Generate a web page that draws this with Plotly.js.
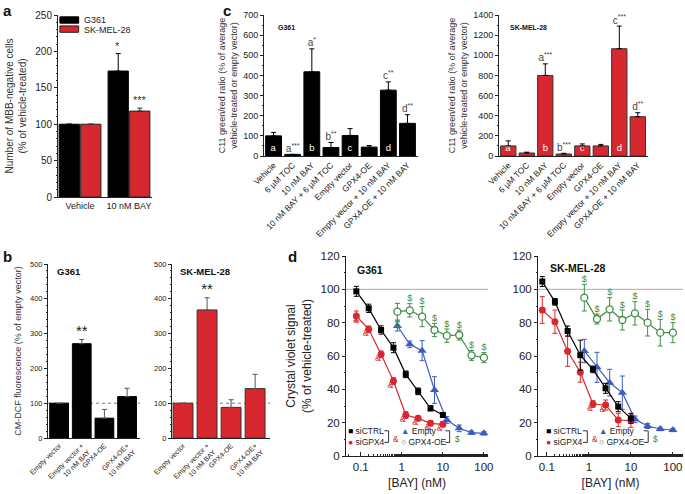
<!DOCTYPE html>
<html>
<head>
<meta charset="utf-8">
<script src="https://cdn.plot.ly/plotly-3.0.1.min.js"></script>
<style>html,body{margin:0;padding:0;background:#fff}</style>
</head>
<body>
<div id="chart" style="width:685px;height:494px"></div>
<script>
// ---- panel a ----
const aGroups = ["Vehicle", "10 nM BAY"];
const aG361 = [100, 173];
const aG361Err = [0, 24];
const aSK = [100, 118];
const aSKErr = [0, 4];
const aG361Stars = ["", "*"];
const aSKStars = ["", "***"];

// ---- panel b ----
const bLabels = ["Empty vector", "Empty vector +<br>10 nM BAY", "GPX4-OE", "GPX4-OE+<br>10 nM BAY"];
const bG361 = [100, 271, 57, 119];
const bG361Err = [0, 12, 25, 24];
const bSK = [100, 368, 88, 142];
const bSKErr = [0, 35, 22, 41];
const bStars = ["", "**", "", ""];

// ---- panel c ----
const cLabels = ["Vehicle", "6 µM TOC", "10 nM BAY", "10 nM BAY + 6 µM TOC", "Empty vector",
  "GPX4-OE", "Empty vector + 10 nM BAY", "GPX4-OE + 10 nM BAY"];
const cG361 = [100, 8, 418, 42, 102, 44, 327, 162];
const cG361Err = [17, 0, 114, 25, 34, 8, 41, 43];
const cSK = [100, 30, 800, 20, 100, 100, 1065, 390];
const cSKErr = [50, 8, 115, 7, 20, 15, 225, 40];
const cInner = ["a", "", "b", "", "c", "", "d", ""];
const cG361Tags = ["", "a<sup>***</sup>", "a<sup>*</sup>", "b<sup>**</sup>", "", "", "c<sup>**</sup>", "d<sup>**</sup>"];
const cSKTags = ["", "", "a<sup>***</sup>", "b<sup>***</sup>", "", "", "c<sup>***</sup>", "d<sup>**</sup>"];

// ---- panel d ----
const doseSi = [0.078, 0.156, 0.3125, 0.625, 1.25, 2.5, 5, 10];
const doseOE = [0.78, 1.56, 3.125, 6.25, 12.5, 25, 50, 100];

const g361CTRL = [98.8, 88.6, 75.6, 65, 49, 38.8, 28.6, 24.6];
const g361CTRLErr = [3, 2.5, 2.5, 3, 2, 2, 1.5, 1.5];
const g361GPX4 = [84, 76, 61, 45, 24.6, 22.6, 19.6, 19];
const g361GPX4Err = [3, 2, 2, 2, 2, 1.5, 1.5, 1.5];
const g361Empty = [78, 67, 63.2, 39.6, 21.6, 16.6, 14, 13.6];
const g361EmptyErr = [3, 2, 6, 8, 2, 2, 1, 1];
const g361OE = [86.6, 87.4, 83.6, 75.6, 72.2, 72.6, 60.4, 59];
const g361OEErr = [5, 4, 6, 4, 4, 3, 3, 3];
const g361Amp = ["&", "&", "&", "&", "&", "&", "&", "&"];

const skCTRL = [104.7, 92.5, 75, 60.5, 52, 40.6, 29.6, 22.6];
const skCTRLErr = [3, 2, 3, 9, 2, 3, 3, 3];
const skGPX4 = [87.6, 80.6, 62.8, 50.3, 31.2, 30.6, 21.6, 21.2];
const skGPX4Err = [8, 7, 9, 6, 2, 3, 4, 4];
const skEmpty = [63, 53.2, 44, 38, 22, 18, 16.2, 15.6];
const skEmptyErr = [7, 9, 8, 10, 2, 1.5, 1, 1];
const skOE = [95, 82.2, 88, 81.6, 85.6, 80, 74, 74];
const skOEErr = [8, 3, 7, 6, 7, 8, 8, 6];
const skAmp = ["", "", "", "", "&", "&", "", ""];

const RED = "#d7282f", BLUE = "#3c5cc0", GREEN = "#3d8c43";
const FONT = "Liberation Sans, Arial, sans-serif";
const W = 685, H = 494;
const xd = (l, r) => [l / W, r / W];
const yd = (t, b) => [1 - b / H, 1 - t / H];
const up = (v, e) => v.map((x, i) => x + e[i]);
const zeros = (n) => new Array(n).fill(0);

function barErr(err, color) {
  return { type: "data", symmetric: false, array: err, arrayminus: zeros(err.length),
    color: color || "#000", thickness: 1, width: 2.5 };
}
function ptErr(err, color) {
  return { type: "data", array: err, color, thickness: 1, width: 2.5 };
}
function catAxis(dom, anchor, range, size, angle) {
  return { domain: dom, anchor, type: "category", range, showline: true, linecolor: "#222",
    linewidth: 1, ticks: "", tickfont: { size, color: "#222" }, tickangle: angle,
    showgrid: false, zeroline: false, fixedrange: true };
}
function valAxis(dom, anchor, range, dtick, minor, size, title) {
  return { domain: dom, anchor, range, dtick, showline: true, linecolor: "#222", linewidth: 1,
    ticks: "outside", ticklen: 3, tickcolor: "#222", tickfont: { size, color: "#222" },
    minor: { dtick: minor, ticks: "outside", ticklen: 1.5, tickcolor: "#222" },
    showgrid: false, zeroline: false, title, fixedrange: true };
}

const data = [
  // a
  { type: "bar", x: aGroups, y: aG361, xaxis: "x", yaxis: "y", name: "G361",
    marker: { color: "#000", line: { color: "#000", width: 1 } }, error_y: barErr(aG361Err) },
  { type: "bar", x: aGroups, y: aSK, xaxis: "x", yaxis: "y", name: "SK-MEL-28",
    marker: { color: RED, line: { color: "#222", width: 1 } }, error_y: barErr(aSKErr, "#333") },

  // b
  { type: "bar", x: bLabels, y: bG361, xaxis: "x2", yaxis: "y2",
    marker: { color: "#000", line: { color: "#000", width: 1 } }, error_y: barErr(bG361Err, "#555") },
  { type: "scatter", mode: "text", x: bLabels, y: up(bG361, bG361Err), text: bStars, xaxis: "x2", yaxis: "y2",
    textposition: "top center", textfont: { size: 15, color: "#222" }, cliponaxis: false },
  { type: "bar", x: bLabels, y: bSK, xaxis: "x3", yaxis: "y3",
    marker: { color: RED, line: { color: "#333", width: 1 } }, error_y: barErr(bSKErr, "#555") },
  { type: "scatter", mode: "text", x: bLabels, y: up(bSK, bSKErr), text: bStars, xaxis: "x3", yaxis: "y3",
    textposition: "top center", textfont: { size: 15, color: "#222" }, cliponaxis: false },

  // c
  { type: "bar", x: cLabels, y: cG361, xaxis: "x4", yaxis: "y4", text: cInner,
    textposition: "inside", insidetextanchor: "start", textangle: 0, constraintext: "none",
    textfont: { size: 9.5, color: "#fff" },
    marker: { color: "#000", line: { color: "#000", width: 1 } }, error_y: barErr(cG361Err) },
  { type: "scatter", mode: "text", x: cLabels, y: up(cG361, cG361Err), text: cG361Tags, xaxis: "x4", yaxis: "y4",
    textposition: "top center", textfont: { size: 10, color: "#444" }, cliponaxis: false },
  { type: "bar", x: cLabels, y: cSK, xaxis: "x5", yaxis: "y5", text: cInner,
    textposition: "inside", insidetextanchor: "start", textangle: 0, constraintext: "none",
    textfont: { size: 9.5, color: "#fff" },
    marker: { color: RED, line: { color: "#333", width: 1 } }, error_y: barErr(cSKErr) },
  { type: "scatter", mode: "text", x: cLabels, y: up(cSK, cSKErr), text: cSKTags, xaxis: "x5", yaxis: "y5",
    textposition: "top center", textfont: { size: 10, color: "#444" }, cliponaxis: false },
];

// d: two dose-response panels
function doseTraces(xa, ya, ctrl, ctrlE, gpx, gpxE, emp, empE, oe, oeE, amp, firstBelow) {
  const common = { type: "scatter", mode: "lines+markers", xaxis: xa, yaxis: ya, cliponaxis: false };
  const ampPos = doseSi.map((d, i) => (i === 0 && firstBelow ? "bottom center" : "bottom left"));
  const dolPos = doseOE.map((d, i) => (i === 0 && firstBelow ? "bottom center" : "top center"));
  const dolY = oe.map((v, i) => (i === 0 && firstBelow ? v - oeE[i] : v + oeE[i]));
  return [
    { ...common, x: doseOE, y: emp, error_y: ptErr(empE, BLUE), line: { color: BLUE, width: 1.2 },
      marker: { symbol: "triangle-up", size: 8, color: BLUE } },
    { ...common, x: doseOE, y: oe, error_y: ptErr(oeE, GREEN), line: { color: GREEN, width: 1.2 },
      marker: { symbol: "circle", size: 7, color: "#fff", line: { color: GREEN, width: 1.3 } } },
    { ...common, x: doseSi, y: gpx, error_y: ptErr(gpxE, RED), line: { color: RED, width: 1.2 },
      marker: { symbol: "circle", size: 7, color: RED } },
    { ...common, x: doseSi, y: ctrl, error_y: ptErr(ctrlE, "#000"), line: { color: "#000", width: 1.2 },
      marker: { symbol: "square", size: 6, color: "#000" } },
    { type: "scatter", mode: "text", x: doseSi, y: gpx, text: amp, xaxis: xa, yaxis: ya,
      textposition: ampPos, textfont: { size: 9, color: RED }, cliponaxis: false },
    { type: "scatter", mode: "text", x: doseOE, y: dolY, text: doseOE.map(() => "$"), xaxis: xa, yaxis: ya,
      textposition: dolPos, textfont: { size: 9, color: GREEN }, cliponaxis: false },
  ];
}
data.push(...doseTraces("x6", "y6", g361CTRL, g361CTRLErr, g361GPX4, g361GPX4Err,
  g361Empty, g361EmptyErr, g361OE, g361OEErr, g361Amp, true));
data.push(...doseTraces("x7", "y7", skCTRL, skCTRLErr, skGPX4, skGPX4Err,
  skEmpty, skEmptyErr, skOE, skOEErr, skAmp, false));
data.forEach((t) => (t.hoverinfo = "skip"));

const cTitle = { text: "C11 green/red ratio (% of average<br>vehicle-treated or empty vector)",
  font: { size: 9, color: "#333" }, standoff: 4 };

function logAxis(dom, anchor, range) {
  return { domain: dom, anchor, type: "log", range, tickvals: [0.1, 1, 10, 100],
    ticktext: ["0.1", "1", "10", "100"], showline: true, linecolor: "#222", linewidth: 1,
    ticks: "inside", ticklen: 4, tickcolor: "#222", tickfont: { size: 11.5, color: "#222" },
    minor: { ticks: "inside", ticklen: 2, tickcolor: "#222" },
    showgrid: false, zeroline: false, fixedrange: true,
    title: { text: "[BAY] (nM)", font: { size: 12, color: "#222" }, standoff: 6 } };
}

const layout = {
  width: W, height: H, margin: { l: 0, r: 0, t: 0, b: 0 },
  paper_bgcolor: "#fff", plot_bgcolor: "rgba(0,0,0,0)",
  font: { family: FONT, color: "#222" }, showlegend: false,
  barmode: "group", bargap: 0.12, bargroupgap: 0.06,

  xaxis: catAxis(xd(58, 152), "y", [-0.45, 1.47], 9, 0),
  yaxis: valAxis(yd(15, 197), "x", [0, 250], 50, 10, 10,
    { text: "Number of MBB-negative cells<br>(% of vehicle-treated)", font: { size: 10, color: "#333" }, standoff: 6 }),

  xaxis2: catAxis(xd(48, 140), "y2", [-0.49, 3.57], 7, -45),
  yaxis2: valAxis(yd(264, 438), "x2", [0, 500], 100, 20, 7.5,
    { text: "CM-DCF fluorescence (% of empty vector)", font: { size: 9, color: "#333" }, standoff: 6 }),
  xaxis3: catAxis(xd(172, 270), "y3", [-0.46, 3.62], 7, -45),
  yaxis3: valAxis(yd(264, 438), "x3", [0, 500], 100, 20, 7.5),

  xaxis4: catAxis(xd(264, 418), "y4", [-0.5, 7.55], 8.5, -45),
  yaxis4: valAxis(yd(15, 156), "x4", [0, 700], 100, 50, 9, cTitle),
  xaxis5: catAxis(xd(499, 648), "y5", [-0.5, 7.55], 8.5, -45),
  yaxis5: valAxis(yd(15, 156), "x5", [0, 1400], 200, 100, 9, cTitle),

  xaxis6: logAxis(xd(346, 488), "y6", [-1.36, 2.1]),
  yaxis6: valAxis(yd(256, 456), "x6", [0, 120], 20, 10, 11.5,
    { text: "Crystal violet signal<br>(% of vehicle-treated)", font: { size: 12, color: "#222" }, standoff: 6 }),
  xaxis7: logAxis(xd(538, 683), "y7", [-1.21, 2.24]),
  yaxis7: valAxis(yd(256, 456), "x7", [0, 120], 20, 10, 11.5),

  shapes: [
    { type: "line", xref: "x2 domain", yref: "y2", x0: 0, x1: 1, y0: 100, y1: 100, layer: "below",
      line: { color: "#777", width: 1, dash: "dot" } },
    { type: "line", xref: "x3 domain", yref: "y3", x0: 0, x1: 1, y0: 100, y1: 100, layer: "below",
      line: { color: "#777", width: 1, dash: "dot" } },
    { type: "line", xref: "x6 domain", yref: "y6", x0: 0, x1: 1, y0: 100, y1: 100, layer: "below",
      line: { color: "#aaa", width: 1 } },
    { type: "line", xref: "x7 domain", yref: "y7", x0: 0, x1: 1, y0: 100, y1: 100, layer: "below",
      line: { color: "#aaa", width: 1 } },
    // legend swatches for panel a
    { type: "rect", xref: "x domain", yref: "y domain", x0: 0.02, x1: 0.22, y0: 0.955, y1: 0.99,
      fillcolor: "#000", line: { color: "#000", width: 1 } },
    { type: "rect", xref: "x domain", yref: "y domain", x0: 0.02, x1: 0.22, y0: 0.905, y1: 0.94,
      fillcolor: RED, line: { color: "#222", width: 1 } },
  ],
  annotations: [],
};

const ann = layout.annotations;
function note(o) { ann.push({ showarrow: false, ...o }); }

// panel letters
[["a", 1, 0], ["b", 1, 246], ["c", 221, 0], ["d", 286, 246]].forEach(([t, x, y]) =>
  note({ text: "<b>" + t + "</b>", xref: "paper", yref: "paper", x: x / W, y: 1 - y / H,
    xanchor: "left", yanchor: "top", font: { size: 15, color: "#111" } }));

// a: stars over grouped bars and legend labels
aGroups.forEach((g, i) => {
  note({ text: aG361Stars[i], xref: "x", yref: "y", x: g, y: aG361[i] + aG361Err[i], xshift: -11,
    yanchor: "bottom", font: { size: 11, color: "#333" } });
  note({ text: aSKStars[i], xref: "x", yref: "y", x: g, y: aSK[i] + aSKErr[i], xshift: 11,
    yanchor: "bottom", font: { size: 11, color: "#333" } });
});
note({ text: "G361", xref: "x domain", yref: "y domain", x: 0.25, y: 0.974, xanchor: "left",
  yanchor: "middle", font: { size: 9, color: "#222" } });
note({ text: "SK-MEL-28", xref: "x domain", yref: "y domain", x: 0.25, y: 0.92, xanchor: "left",
  yanchor: "middle", font: { size: 9, color: "#222" } });

// b, c, d subplot titles
[["G361", "x2", "y2", 0.08, 1.0, 9.5], ["SK-MEL-28", "x3", "y3", 0.06, 1.0, 9.5],
 ["G361", "x4", "y4", 0.08, 0.95, 7], ["SK-MEL-28", "x5", "y5", 0.06, 0.95, 7],
 ["G361", "x6", "y6", 0.06, 0.97, 10.5], ["SK-MEL-28", "x7", "y7", 0.07, 0.98, 10.5]]
  .forEach(([t, xa, ya, x, y, s]) => note({ text: "<b>" + t + "</b>", xref: xa + " domain",
    yref: ya + " domain", x, y, xanchor: "left", yanchor: "top", font: { size: s, color: "#111" } }));

// d legends: text entries plus bracket lines
const ROW1 = 0.126, ROW2 = 0.068, MID = 0.097;
function bracket(xa, ya, bx) {
  const xr = xa + " domain", yr = ya + " domain";
  const ln = { color: "#333", width: 1 };
  layout.shapes.push(
    { type: "line", xref: xr, yref: yr, x0: bx - 0.03, x1: bx, y0: ROW1, y1: ROW1, line: ln },
    { type: "line", xref: xr, yref: yr, x0: bx, x1: bx, y0: ROW1, y1: ROW2, line: ln },
    { type: "line", xref: xr, yref: yr, x0: bx - 0.03, x1: bx, y0: ROW2, y1: ROW2, line: ln });
}
function doseLegend(xa, ya, lx, bx1, rx, bx2) {
  const xr = xa + " domain", yr = ya + " domain";
  note({ text: "<span style='color:#000'>■</span> siCTRL<br><span style='color:" + RED + "'>●</span> siGPX4",
    xref: xr, yref: yr, x: lx, y: MID, xanchor: "left", yanchor: "middle", align: "left",
    font: { size: 8.5, color: "#222" } });
  note({ text: "&", xref: xr, yref: yr, x: bx1 + 0.02, y: MID - 0.01, xanchor: "left", yanchor: "middle",
    font: { size: 8.5, color: RED } });
  note({ text: "<span style='color:" + BLUE + "'>▲</span> Empty<br><span style='color:" + GREEN + "'>○</span> GPX4-OE",
    xref: xr, yref: yr, x: rx, y: MID, xanchor: "left", yanchor: "middle", align: "left",
    font: { size: 8.5, color: "#222" } });
  note({ text: "$", xref: xr, yref: yr, x: bx2 + 0.02, y: MID - 0.01, xanchor: "left", yanchor: "middle",
    font: { size: 8.5, color: GREEN } });
  bracket(xa, ya, bx1);
  bracket(xa, ya, bx2);
}
doseLegend("x6", "y6", 0.0, 0.3, 0.37, 0.73);
doseLegend("x7", "y7", 0.04, 0.34, 0.41, 0.76);

Plotly.newPlot("chart", data, layout, { staticPlot: true });
</script>
</body>
</html>
